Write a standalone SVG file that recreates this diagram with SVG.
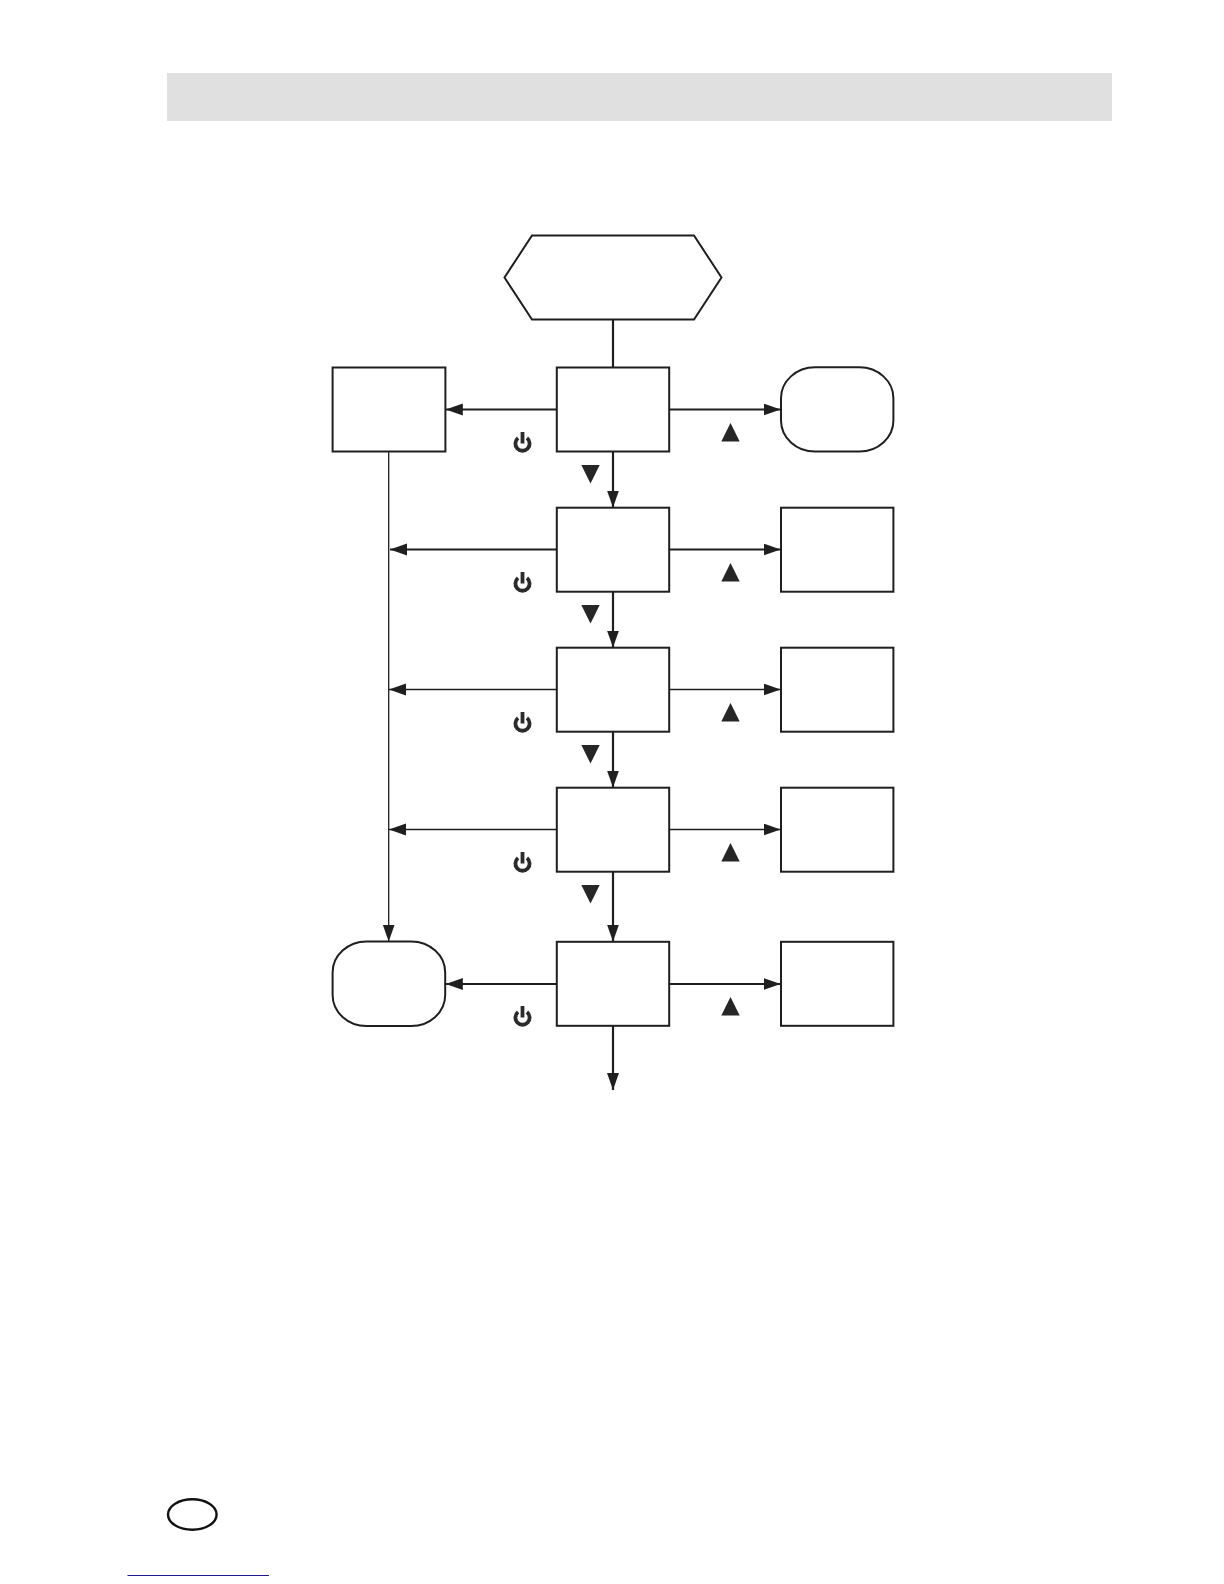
<svg xmlns="http://www.w3.org/2000/svg" xmlns:xlink="http://www.w3.org/1999/xlink" width="1224" height="1584" viewBox="0 0 1224 1584">
  <style>
    .node { fill: #fff; stroke: #1f1f1f; stroke-width: 2; }
    .c { fill: none; stroke: #1f1f1f; stroke-width: 2.2; }
    .thin { stroke-width: 1.3; }
    .tri { fill: #262626; }
    .pw { fill: none; stroke: #2b2b2b; stroke-width: 3.8; }
  </style>
  <defs>
    <marker id="ah" markerUnits="userSpaceOnUse" markerWidth="18" markerHeight="13" refX="17" refY="6" orient="auto">
      <polygon points="0,0 17,6 0,12" fill="#1f1f1f"/>
    </marker>
    <g id="up"><polygon class="tri" points="0,-9.5 9.2,9 -9.2,9"/></g>
    <g id="down"><polygon class="tri" points="-9.2,-9 9.2,-9 0,9.5"/></g>
    <g id="power"><path class="pw" d="M-4.4,-4.4 A7.1,7.1 0 1 0 4.4,-4.4"/><path class="pw" d="M0,-10.5 V1"/></g>
  </defs>

  <rect id="header-band" x="167" y="73" width="945" height="48" fill="#e0e0e0"/>

  <g id="connectors">
    <path class="c" d="M613,320 V367.5"/>
    <path class="c" d="M556.6,409.5 H445.8" marker-end="url(#ah)"/>
    <path class="c" d="M669,409.5 H780.6" marker-end="url(#ah)"/>
    <path class="c" d="M613,451.5 V507.5" marker-end="url(#ah)"/>
    <path class="c thin" d="M388.7,451.5 V941.5" marker-end="url(#ah)"/>
    <path class="c" d="M556.6,549.5 H390" marker-end="url(#ah)"/>
    <path class="c" d="M669,549.5 H780.6" marker-end="url(#ah)"/>
    <path class="c" d="M613,591.5 V647.5" marker-end="url(#ah)"/>
    <path class="c thin" d="M556.6,689.5 H389" marker-end="url(#ah)"/>
    <path class="c thin" d="M669,689.5 H780.6" marker-end="url(#ah)"/>
    <path class="c" d="M613,731.5 V787.5" marker-end="url(#ah)"/>
    <path class="c thin" d="M556.6,829.5 H389" marker-end="url(#ah)"/>
    <path class="c thin" d="M669,829.5 H780.6" marker-end="url(#ah)"/>
    <path class="c" d="M613,871.5 V941.5" marker-end="url(#ah)"/>
    <path class="c" d="M556.6,984 H445.8" marker-end="url(#ah)"/>
    <path class="c" d="M669,984 H780.6" marker-end="url(#ah)"/>
    <path class="c" d="M613,1026 V1090" marker-end="url(#ah)"/>
  </g>

  <g id="start"><polygon class="node" points="532,235.5 694,235.5 721.5,277.5 694,319.5 532,319.5 504.5,277.5"/></g>
  <g id="n1"><rect class="node" x="556.8" y="367.5" width="112.4" height="84"/></g>
  <g id="n1-left"><rect class="node" x="332.6" y="367.5" width="112.8" height="84"/></g>
  <g id="n1-right"><rect class="node" x="781" y="367.3" width="112.4" height="84.2" rx="34" ry="31"/></g>
  <g id="n2"><rect class="node" x="556.8" y="507.7" width="112.4" height="84"/></g>
  <g id="n2-right"><rect class="node" x="781" y="507.7" width="112.4" height="84"/></g>
  <g id="n3"><rect class="node" x="556.8" y="647.7" width="112.4" height="84"/></g>
  <g id="n3-right"><rect class="node" x="781" y="647.7" width="112.4" height="84"/></g>
  <g id="n4"><rect class="node" x="556.8" y="787.7" width="112.4" height="84"/></g>
  <g id="n4-right"><rect class="node" x="781" y="787.7" width="112.4" height="84"/></g>
  <g id="n5"><rect class="node" x="556.8" y="941.8" width="112.4" height="84"/></g>
  <g id="n5-left"><rect class="node" x="332.6" y="941.5" width="112.6" height="84.5" rx="34" ry="31"/></g>
  <g id="n5-right"><rect class="node" x="781" y="941.8" width="112.4" height="84"/></g>

  <g id="icons">
    <use href="#power" x="522.5" y="442.5"/>
    <use href="#power" x="522.5" y="582.5"/>
    <use href="#power" x="522.5" y="722.5"/>
    <use href="#power" x="522.5" y="862.5"/>
    <use href="#power" x="522.5" y="1016.5"/>
    <use href="#up" x="730.5" y="432.5"/>
    <use href="#up" x="730.5" y="572.5"/>
    <use href="#up" x="730.5" y="712.5"/>
    <use href="#up" x="730.5" y="852.5"/>
    <use href="#up" x="730.5" y="1006.5"/>
    <use href="#down" x="590.5" y="474"/>
    <use href="#down" x="590.5" y="614"/>
    <use href="#down" x="590.5" y="754"/>
    <use href="#down" x="590.5" y="894"/>
  </g>

  <ellipse id="badge" cx="192.3" cy="1514.5" rx="24.3" ry="15.3" fill="#fff" stroke="#111" stroke-width="2.4"/>
  <path id="footer-line" d="M127.5,1575.5 H269" stroke="#1a1a9a" stroke-width="1.2" fill="none"/>
</svg>
